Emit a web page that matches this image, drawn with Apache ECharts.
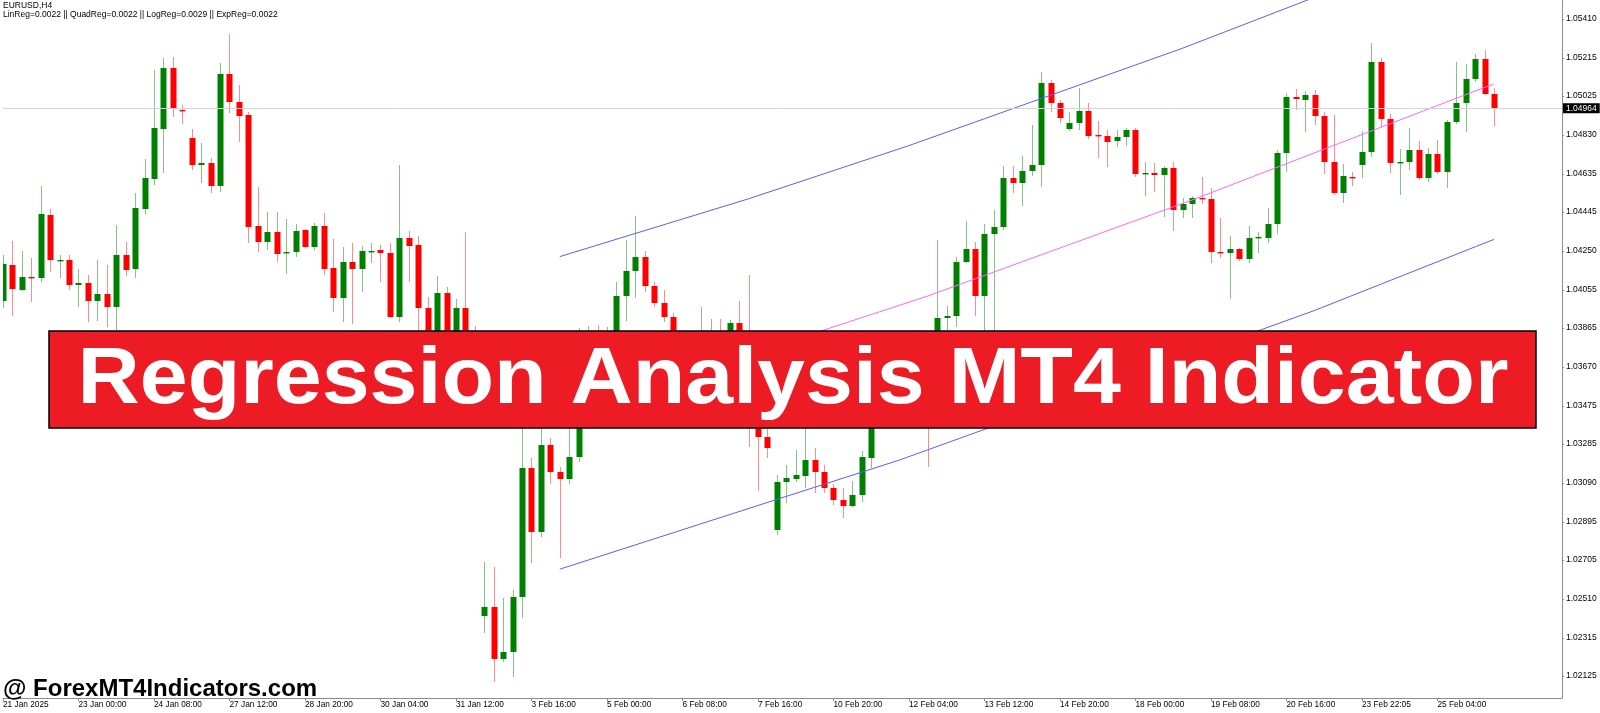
<!DOCTYPE html>
<html>
<head>
<meta charset="utf-8">
<script src="https://cdn.jsdelivr.net/npm/echarts@6/dist/echarts.min.js"></script>
<style>
html,body{margin:0;padding:0;background:#fff;}
#chart{width:1600px;height:713px;}
</style>
</head>
<body>
<div id="chart"></div>
<script>
// ---- data (EURUSD H4) ----
const tickLabels = ['21 Jan 2025','23 Jan 00:00','24 Jan 08:00','27 Jan 12:00','28 Jan 20:00','30 Jan 04:00','31 Jan 12:00','3 Feb 16:00','5 Feb 00:00','6 Feb 08:00','7 Feb 16:00','10 Feb 20:00','12 Feb 04:00','13 Feb 12:00','14 Feb 20:00','18 Feb 00:00','19 Feb 08:00','20 Feb 16:00','23 Feb 22:05','25 Feb 04:00'];
const barsPerLabel = 8;
const priceTicks = [1.05410,1.05215,1.05025,1.04830,1.04635,1.04445,1.04250,1.04055,1.03865,1.03670,1.03475,1.03285,1.03090,1.02895,1.02705,1.02510,1.02315,1.02125];
const currentPrice = 1.04964;

const open = [
1.04000,1.04180,1.04055,1.04120,1.04115,1.04430,1.04200,1.04205,1.04080,1.04090,
1.04000,1.04035,1.03970,1.04230,1.04160,1.04460,1.04610,1.04860,1.05165,1.04955,
1.04815,1.04680,1.04690,1.04575,1.05135,1.04995,1.04930,1.04375,1.04295,1.04345,
1.04240,1.04245,1.04355,1.04270,1.04375,1.04165,1.04015,1.04195,1.04160,1.04245,
1.04255,1.04240,1.03920,1.04315,1.04280,1.03965,1.03780,1.04040,1.03805,1.03965,
1.03705,1.02425,1.02470,1.02210,1.02245,1.02520,1.03165,1.02845,1.03280,1.03145,
1.03110,1.03220,1.03680,1.03755,1.03695,1.03805,1.04025,1.04150,1.04220,1.04075,
1.03990,1.03920,1.03780,1.03655,1.03755,1.03830,1.03845,1.03755,1.03890,1.03705,
1.03505,1.03320,1.02855,1.03095,1.03110,1.03125,1.03205,1.03145,1.03065,1.03005,
1.02975,1.03030,1.03215,1.03430,1.03530,1.03480,1.03605,1.03705,1.03630,1.03580,
1.03915,1.03925,1.04195,1.04260,1.04025,1.04335,1.04370,1.04615,1.04590,1.04650,
1.04680,1.05090,1.04990,1.04860,1.04890,1.04950,1.04830,1.04825,1.04800,1.04820,
1.04855,1.04635,1.04640,1.04630,1.04665,1.04455,1.04485,1.04515,1.04510,1.04245,
1.04240,1.04260,1.04210,1.04315,1.04315,1.04385,1.04740,1.05020,1.05005,1.05030,
1.04925,1.04695,1.04540,1.04620,1.04680,1.04745,1.05195,1.04910,1.04690,1.04695,
1.04755,1.04615,1.04735,1.04645,1.04895,1.04990,1.05110,1.05210,1.05035];
const high = [
1.04230,1.04300,1.04250,1.04215,1.04575,1.04460,1.04230,1.04230,1.04160,1.04130,
1.04205,1.04180,1.04380,1.04295,1.04540,1.04710,1.05155,1.05215,1.05220,1.04980,
1.04860,1.04790,1.04715,1.05190,1.05335,1.05080,1.04945,1.04570,1.04445,1.04445,
1.04410,1.04385,1.04360,1.04390,1.04440,1.04310,1.04270,1.04290,1.04275,1.04290,
1.04280,1.04290,1.04680,1.04350,1.04325,1.04020,1.04125,1.04070,1.04010,1.04345,
1.03875,1.02695,1.02670,1.02515,1.02555,1.03380,1.03215,1.03380,1.03315,1.03170,
1.03405,1.03865,1.03875,1.03880,1.03870,1.04095,1.04305,1.04425,1.04250,1.04095,
1.04055,1.03940,1.03805,1.03830,1.03970,1.03910,1.03910,1.03905,1.04000,1.04130,
1.03555,1.03365,1.03130,1.03180,1.03255,1.03365,1.03265,1.03180,1.03085,1.03065,
1.03100,1.03250,1.03505,1.03580,1.03555,1.03645,1.03755,1.03855,1.03680,1.04305,
1.03975,1.04220,1.04400,1.04295,1.04385,1.04455,1.04675,1.04675,1.04725,1.04880,
1.05145,1.05105,1.05005,1.04945,1.05065,1.04990,1.04900,1.04855,1.04855,1.04865,
1.04865,1.04695,1.04690,1.04675,1.04695,1.04515,1.04525,1.04620,1.04565,1.04415,
1.04325,1.04265,1.04375,1.04345,1.04465,1.04755,1.05040,1.05060,1.05050,1.05055,
1.04945,1.04930,1.04685,1.04645,1.04850,1.05290,1.05215,1.04935,1.04760,1.04865,
1.04800,1.04765,1.04805,1.04905,1.05195,1.05185,1.05235,1.05255,1.05065];
const low = [
1.03965,1.03925,1.04050,1.03995,1.04095,1.04145,1.04115,1.04055,1.03970,1.03895,
1.03900,1.03870,1.03855,1.04125,1.04115,1.04435,1.04580,1.04640,1.04920,1.04885,
1.04655,1.04590,1.04540,1.04545,1.04940,1.04795,1.04290,1.04245,1.04255,1.04195,
1.04135,1.04220,1.04265,1.04255,1.04130,1.03945,1.03895,1.03885,1.04045,1.04190,
1.04095,1.03915,1.03895,1.04095,1.03835,1.03730,1.03755,1.03755,1.03780,1.03655,
1.03580,1.02340,1.02095,1.02195,1.02120,1.02415,1.02690,1.02820,1.03085,1.02715,
1.03085,1.03195,1.03630,1.03645,1.03665,1.03780,1.03900,1.04015,1.04045,1.03970,
1.03895,1.03730,1.03605,1.03580,1.03705,1.03745,1.03715,1.03725,1.03665,1.03270,
1.03050,1.03215,1.02830,1.02990,1.03095,1.03065,1.03040,1.03040,1.02980,1.02915,
1.02970,1.02995,1.03165,1.03405,1.03430,1.03455,1.03580,1.03580,1.03170,1.03555,
1.03855,1.03870,1.04190,1.03925,1.03780,1.03705,1.04355,1.04540,1.04475,1.04625,
1.04570,1.04945,1.04890,1.04850,1.04855,1.04810,1.04715,1.04670,1.04770,1.04775,
1.04620,1.04525,1.04545,1.04420,1.04350,1.04415,1.04415,1.04485,1.04190,1.04215,
1.04010,1.04200,1.04190,1.04240,1.04290,1.04335,1.04645,1.04955,1.04845,1.04880,
1.04635,1.04530,1.04490,1.04575,1.04615,1.04720,1.04870,1.04640,1.04530,1.04655,
1.04605,1.04595,1.04635,1.04565,1.04885,1.04845,1.05095,1.05030,1.04875];
const close = [
1.04185,1.04060,1.04120,1.04115,1.04435,1.04205,1.04205,1.04080,1.04090,1.04000,
1.04035,1.03970,1.04230,1.04155,1.04465,1.04615,1.04865,1.05165,1.04960,1.04950,
1.04680,1.04690,1.04575,1.05135,1.04995,1.04925,1.04370,1.04295,1.04345,1.04235,
1.04245,1.04350,1.04270,1.04375,1.04160,1.04015,1.04195,1.04160,1.04250,1.04250,
1.04240,1.03920,1.04315,1.04275,1.03965,1.03780,1.04040,1.03805,1.03965,1.03705,
1.03620,1.02470,1.02210,1.02245,1.02520,1.03165,1.02845,1.03280,1.03145,1.03110,
1.03220,1.03680,1.03755,1.03695,1.03805,1.04025,1.04150,1.04220,1.04075,1.03990,
1.03920,1.03780,1.03655,1.03755,1.03830,1.03845,1.03755,1.03890,1.03705,1.03505,
1.03320,1.03265,1.03095,1.03115,1.03130,1.03205,1.03145,1.03065,1.03005,1.02975,
1.03030,1.03220,1.03430,1.03530,1.03480,1.03605,1.03705,1.03630,1.03580,1.03915,
1.03925,1.04195,1.04260,1.04025,1.04335,1.04370,1.04615,1.04590,1.04650,1.04680,
1.05090,1.04990,1.04915,1.04890,1.04950,1.04825,1.04825,1.04795,1.04820,1.04855,
1.04635,1.04640,1.04630,1.04665,1.04455,1.04485,1.04515,1.04510,1.04245,1.04240,
1.04260,1.04210,1.04315,1.04320,1.04385,1.04740,1.05020,1.05010,1.05030,1.04925,
1.04695,1.04540,1.04625,1.04615,1.04745,1.05195,1.04910,1.04690,1.04695,1.04755,
1.04615,1.04735,1.04645,1.04895,1.04990,1.05110,1.05210,1.05035,1.04964];

// regression channel, [bar index, price]
const regUpper  = [[59,1.04222],[79,1.04511],[96,1.04777],[125,1.05264],[158,1.05865]];
const regMiddle = [[59,1.03440],[87,1.03855],[98,1.04025],[126,1.04505],[156,1.05050],[158,1.05085]];
const regLower  = [[59,1.02659],[95,1.03205],[139,1.03953],[156,1.04271],[158,1.04308]];

const headerLine1 = 'EURUSD,H4';
const headerLine2 = 'LinReg=0.0022 || QuadReg=0.0022 || LogReg=0.0029 || ExpReg=0.0022';
const bannerText = 'Regression Analysis MT4 Indicator';
const watermark = '@ ForexMT4Indicators.com';

// ---- chart ----
const candleData = open.map((o, i) => [i, o, close[i], low[i], high[i]]);
const timeTickValues = tickLabels.map((_, i) => i * barsPerLabel);
const BULL = '#008000', BEAR = '#ff0000';
const BULL_WICK = '#86c386', BEAR_WICK = '#ff8c8c';

const chart = echarts.init(document.getElementById('chart'), null, {renderer: 'canvas'});

function renderCandle(params, api) {
  const x = api.value(0), o = api.value(1), c = api.value(2), l = api.value(3), h = api.value(4);
  const pO = api.coord([x, o]), pC = api.coord([x, c]);
  const pL = api.coord([x, l]), pH = api.coord([x, h]);
  const band = api.size([1, 0])[0];
  const bw = Math.max(2, Math.round(band * 0.68));
  const bull = c >= o;
  const cx = Math.round(pO[0]);
  const top = Math.min(pO[1], pC[1]);
  const ht = Math.max(Math.abs(pO[1] - pC[1]), 1.4);
  return {
    type: 'group',
    children: [
      {type: 'line', shape: {x1: cx + 0.5, y1: pH[1], x2: cx + 0.5, y2: pL[1]},
       style: {stroke: bull ? BULL_WICK : BEAR_WICK, lineWidth: 1}},
      {type: 'rect', shape: {x: cx + 0.5 - bw / 2, y: top, width: bw, height: ht},
       style: {fill: bull ? BULL : BEAR}}
    ]
  };
}

const smallFont = '"Liberation Sans", Arial, sans-serif';

const option = {
  animation: false,
  backgroundColor: '#ffffff',
  grid: {left: 0, top: 0, right: 38, bottom: 15, containLabel: false},
  xAxis: {
    type: 'value',
    min: 0,
    max: 165.2,
    interval: barsPerLabel,
    splitLine: {show: false},
    axisLine: {show: true, onZero: false, lineStyle: {color: '#8c8c8c', width: 1}},
    axisTick: {show: true, length: 3, customValues: timeTickValues, lineStyle: {color: '#8c8c8c'}},
    axisLabel: {
      customValues: timeTickValues,
      align: 'left',
      margin: 3,
      color: '#000',
      fontSize: 8.3,
      fontFamily: smallFont,
      formatter: v => tickLabels[Math.round(v / barsPerLabel)] || ''
    }
  },
  yAxis: {
    type: 'value',
    position: 'right',
    min: 1.02015,
    max: 1.05505,
    scale: true,
    splitLine: {show: false},
    axisLine: {show: true, onZero: false, lineStyle: {color: '#8c8c8c', width: 1}},
    axisTick: {show: true, length: 2, customValues: priceTicks, lineStyle: {color: '#8c8c8c'}},
    axisLabel: {
      customValues: priceTicks,
      margin: 4,
      color: '#000',
      fontSize: 8.5,
      fontFamily: smallFont,
      formatter: v => v.toFixed(5)
    }
  },
  series: [
    {
      type: 'line',
      data: [],
      z: 1,
      silent: true,
      markLine: {
        silent: true,
        precision: 5,
        symbol: ['none', 'none'],
        animation: false,
        lineStyle: {color: '#d4d4d4', width: 1, type: 'solid'},
        label: {
          show: true,
          position: 'end',
          distance: 1,
          formatter: () => currentPrice.toFixed(5),
          color: '#fff',
          backgroundColor: '#000',
          padding: [1, 3, 0, 3],
          fontSize: 8.5,
          fontFamily: smallFont
        },
        data: [{yAxis: currentPrice}]
      }
    },
    {
      type: 'custom',
      renderItem: renderCandle,
      data: candleData,
      encode: {x: 0, y: [1, 2, 3, 4]},
      clip: true,
      z: 2,
      silent: true
    },
    {type: 'line', data: regUpper, showSymbol: false, smooth: false, clip: true, z: 3, silent: true,
     lineStyle: {color: '#5c5cff', width: 1}},
    {type: 'line', data: regMiddle, showSymbol: false, smooth: false, clip: true, z: 3, silent: true,
     lineStyle: {color: '#ff66ff', width: 1}},
    {type: 'line', data: regLower, showSymbol: false, smooth: false, clip: true, z: 3, silent: true,
     lineStyle: {color: '#5c5cff', width: 1}}
  ],
  graphic: [
    {type: 'text', left: 3, top: 1, z: 50, silent: true,
     style: {text: headerLine1, fill: '#000', font: '8.5px ' + smallFont}},
    {type: 'text', left: 3, top: 10, z: 50, silent: true,
     style: {text: headerLine2, fill: '#000', font: '8.5px ' + smallFont}},
    {type: 'rect', z: 100, silent: true,
     shape: {x: 49, y: 331, width: 1487, height: 97},
     style: {fill: '#ed1c24', stroke: '#000', lineWidth: 1.5}},
    {type: 'text', z: 101, silent: true, x: 793, y: 381, scaleX: 1.09, scaleY: 1,
     style: {text: bannerText, fill: '#fff', font: 'bold 79px "Liberation Sans", Arial, sans-serif',
             textAlign: 'center', textVerticalAlign: 'middle'}},
    {type: 'text', z: 101, silent: true, x: 3, y: 701,
     style: {text: watermark, fill: '#000', font: 'bold 24px "Liberation Sans", Arial, sans-serif',
             textAlign: 'left', textVerticalAlign: 'bottom'}}
  ]
};
chart.setOption(option);
</script>
</body>
</html>
